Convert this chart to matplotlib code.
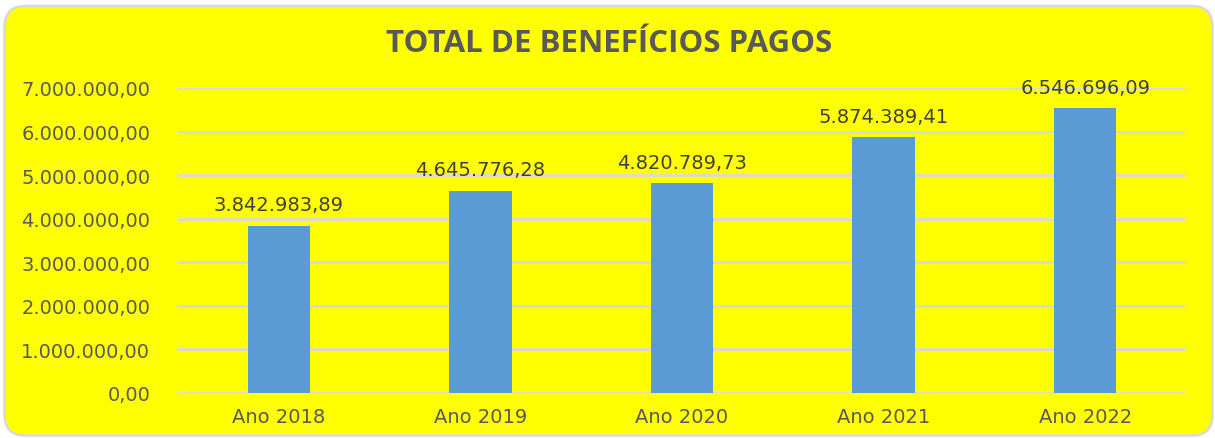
import matplotlib
matplotlib.use("Agg")
import matplotlib.pyplot as plt
from matplotlib.patches import FancyBboxPatch
from matplotlib.ticker import FuncFormatter

categories = ["Ano 2018", "Ano 2019", "Ano 2020", "Ano 2021", "Ano 2022"]
values = [3842983.89, 4645776.28, 4820789.73, 5874389.41, 6546696.09]
title = "TOTAL DE BENEFÍCIOS PAGOS"

def br(v):
    s = f"{v:,.2f}"
    return s.replace(",", "X").replace(".", ",").replace("X", ".")

W, H = 1215, 439
fig = plt.figure(figsize=(W/100, H/100), dpi=100)
fig.patch.set_facecolor("white")

box = FancyBboxPatch((4.5/W, 2.5/H), (1212.5-4.5)/W, (432-2.5)/H,
                     boxstyle="round,pad=0,rounding_size=0.017",
                     transform=fig.transFigure, facecolor="#FFFF00",
                     edgecolor="#D9D9D9", linewidth=1.8,
                     mutation_aspect=W/H, zorder=-10)
fig.patches.append(box)

ax = fig.add_axes([178/W, 1-394/H, (1186-178)/W, (394-89)/H])
ax.set_facecolor("none")
x = range(len(categories))
ax.bar(x, values, width=0.31, color="#5B9BD5", zorder=3)
ax.set_xlim(-0.5, 4.5)
ax.set_ylim(0, 7000000)
ax.set_yticks(range(0, 7000001, 1000000))
ax.yaxis.set_major_formatter(FuncFormatter(lambda v, p: br(v)))
ax.set_xticks(list(x))
ax.set_xticklabels(categories)
ax.grid(axis="y", color="#D9D9D9", linewidth=2, zorder=0)
ax.set_axisbelow(True)
for s in ax.spines.values():
    s.set_visible(False)
ax.tick_params(axis="both", length=0, labelsize=14, labelcolor="#595959")
ax.tick_params(axis="y", pad=20)
ax.tick_params(axis="x", pad=10)
for lab in ax.get_xticklabels() + ax.get_yticklabels():
    lab.set_fontfamily("DejaVu Sans")

for i, v in enumerate(values):
    ax.annotate(br(v), (i, v), xytext=(0, 8), textcoords="offset points",
                ha="center", va="bottom", fontsize=14, color="#404040",
                family="DejaVu Sans", zorder=4)

fig.text(609/W, 1-44/H, title, ha="center", va="center", fontsize=22.5,
         fontweight="bold", color="#595959", family="Open Sans")

fig.savefig("out.png", dpi=100, facecolor="white")
